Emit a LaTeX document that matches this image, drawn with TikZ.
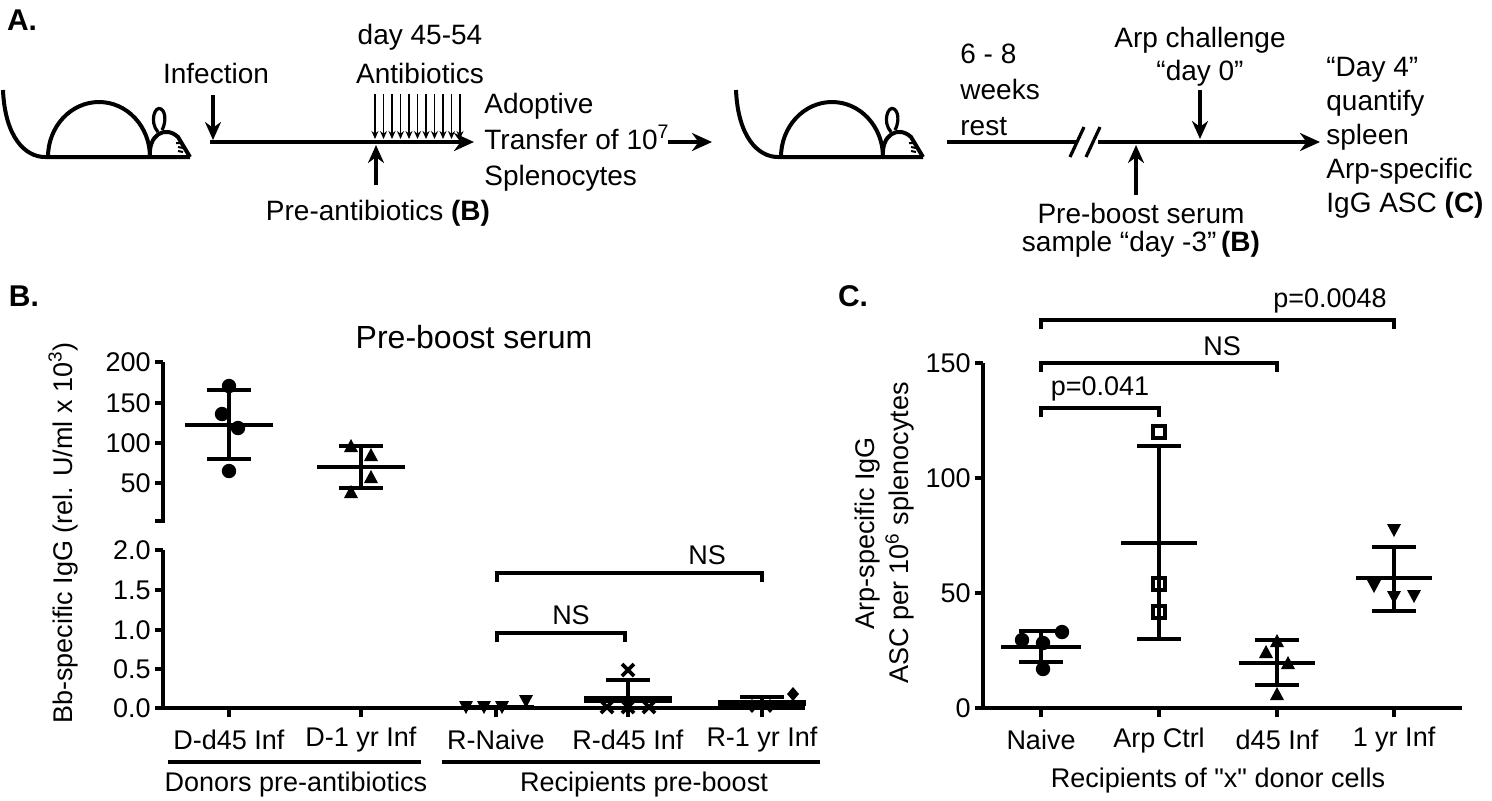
\documentclass[tikz,border=0pt]{standalone}
\usepackage{fontspec}
\setmainfont{Liberation Sans}
\newfontfamily\rawsans{Liberation Sans}[Ligatures=ResetAll]
\usetikzlibrary{arrows.meta}
\tikzset{
  txt/.style={font=\fontsize{14}{16}\selectfont, inner sep=0pt},
  lbl/.style={font=\fontsize{13.5}{15}\selectfont, inner sep=0pt},
  panel/.style={font=\fontsize{15}{17}\selectfont\bfseries, inner sep=0pt},
  axis/.style={line width=2pt},
  bar/.style={line width=2pt},
  tline/.style={line width=2.2pt, -{Stealth[length=10pt,width=9pt]}},
  pointer/.style={line width=2pt, -{Stealth[length=9pt,width=8pt]}},
  mouse/.pic={
    \draw[line width=2pt] (-42,-67) .. controls (-40,-20) and (-20,0) .. (0,0) -- (145,0);
    \draw[line width=2pt] (3,0) arc[start angle=180, end angle=360, x radius=51, y radius=55];
    \draw[line width=2pt] (105,0) .. controls (103,-22) and (120,-32) .. (133,-20) -- (145,0);
    \draw[line width=1.6pt] (113,-25) .. controls (104,-35) and (110,-52) .. (116,-48) .. controls (122,-44) and (120,-32) .. (117,-27);
    \draw[line width=1pt] (131,-14) -- (137,-14) (133,-10) -- (138,-9) (133,-6) -- (138,-5);
  }
}
\newcommand\dotpt[2]{\fill (#1,#2) circle (3.6pt);}
\newcommand\triup[2]{\fill (#1,#2) +(0,-8) -- +(7,5) -- +(-7,5) -- cycle;}
\newcommand\tridn[2]{\fill (#1,#2) +(0,8) -- +(7,-5) -- +(-7,-5) -- cycle;}
\newcommand\xmk[2]{\draw[line width=1.8pt] (#1,#2) +(-6,-6) -- +(6,6) +(-6,6) -- +(6,-6);}
\newcommand\diam[2]{\fill (#1,#2) +(0,-7) -- +(6,0) -- +(0,7) -- +(-6,0) -- cycle;}
\newcommand\opensq[2]{\draw[line width=1.7pt] (#1,#2) +(-6,-6) rectangle +(6,6);}
% x, mean, low, high, half width of mean line
\newcommand\errbar[5]{\draw[bar] (#1-22,#3) -- (#1+22,#3) (#1-22,#4) -- (#1+22,#4) (#1,#3) -- (#1,#4) (#1-#5,#2) -- (#1+#5,#2);}
\newcommand\sigbar[3]{\draw[bar] (#1,#3+9) -- (#1,#3) -- (#2,#3) -- (#2,#3+9);}
\begin{document}
\begin{tikzpicture}[x=0.5pt,y=-0.5pt]
  \useasboundingbox (0,0) rectangle (1492,800);

  % A: timeline
  \node[panel] at (22,20) {A.};
  \pic at (45,157) {mouse};
  \coordinate (t1s) at (210,142);
  \coordinate (t1e) at (474,142);
  \draw[tline] (t1s) -- (t1e);
  \node[txt] (inf) at (216,73) {Infection};
  \coordinate (infT) at (213,95);
  \coordinate (infB) at (213,140);
  \draw[pointer] (infT) -- (infB);
  \node[txt] (abx1) at (420,37) {day 45-54};
  \node[txt] (abx2) at (420,73) {Antibiotics};
  \foreach \i in {0,...,10}
    \draw[line width=0.7pt, -{Stealth[length=4pt,width=3.5pt]}] (375+\i*8.5,94) -- (375+\i*8.5,139);
  \coordinate (preB) at (376,185);
  \coordinate (preT) at (376,145);
  \draw[pointer] (preB) -- (preT);
  \node[txt] (pre) at (378,213) {Pre-antibiotics \textbf{(B)}};
  \node[txt, anchor=west, align=left] (adopt) at (484,142) {Adoptive\\[2pt]Transfer of 10\textsuperscript{7}\\[2pt]Splenocytes};
  \coordinate (trS) at (668,142);
  \coordinate (trE) at (712,142);
  \draw[tline] (trS) -- (trE);
  \pic at (778,157) {mouse};
  \coordinate (t2s) at (947,142);
  \coordinate (t2e) at (1320,142);
  \draw[tline] (t2s) -- (t2e);
  \fill[white] (1076,132) rectangle (1098,152);
  \draw[line width=1.6pt] (1070,157) -- (1084,127) (1086,157) -- (1100,127);
  \node[txt, anchor=west, align=left] (rest) at (960,90) {6 - 8\\[2pt]weeks\\[2pt]rest};
  \node[txt] (arp1) at (1200,40) {Arp challenge};
  \node[txt] (arp2) at (1200,73) {``day 0''};
  \coordinate (arpT) at (1200,90);
  \coordinate (arpB) at (1200,139);
  \draw[pointer] (arpT) -- (arpB);
  \coordinate (pbB) at (1136,195);
  \coordinate (pbT) at (1136,145);
  \draw[pointer] (pbB) -- (pbT);
  \node[txt] (pb1) at (1141,213) {Pre-boost serum};
  \node[txt] (pb2) at (1141,244) {sample ``day -3''\,\textbf{(B)}};
  \node[txt, anchor=west, align=left] (day4) at (1326,138) {``Day 4''\\[1pt]quantify\\[1pt]spleen\\[1pt]Arp-specific\\[1pt]IgG ASC \textbf{(C)}};

  % B: pre-boost serum
  \node[panel] at (24,296) {B.};
  \node[lbl, font=\fontsize{16}{18}\selectfont] at (474,337) {Pre-boost serum};
  \draw[axis] (163,362) -- (163,521) -- ++(-8,0);
  \foreach \v/\y in {200/362,150/403,100/443,50/483} {
    \draw[axis] (163,\y) -- ++(-8,0);
    \node[lbl, anchor=east] at (151,\y) {\v};
  }
  \draw[axis] (163,550) -- (163,708) -- (805,708);
  \foreach \v/\y in {2.0/550,1.5/590,1.0/630,0.5/669,0.0/708} {
    \draw[axis] (163,\y) -- ++(-8,0);
    \node[lbl, anchor=east] at (151,\y) {\v};
  }
  \foreach \x/\t in {229/D-d45 Inf,361/D-1 yr Inf,496/R-Naive,628/R-d45 Inf,762/R-1 yr Inf} {
    \draw[axis] (\x,708) -- ++(0,9);
    \node[lbl] at (\x,740) {\t};
  }
  \node[lbl, rotate=90] at (63,533) {Bb-specific IgG (rel. U/ml x 10\textsuperscript{3})};
  \draw[axis] (168,762) -- (421,762) (442,762) -- (820,762);
  \node[lbl] at (296,784) {Donors pre-antibiotics};
  \node[lbl] at (644,784) {Recipients pre-boost};
  \dotpt{229}{386} \dotpt{222}{414} \dotpt{238}{428} \dotpt{229}{471}
  \errbar{229}{425}{390}{459}{44}
  \triup{351}{447} \triup{371}{456} \triup{371}{478} \triup{351}{493}
  \errbar{361}{467}{446}{488}{44}
  \tridn{466}{706} \tridn{484}{706} \tridn{502}{706} \tridn{526}{700}
  \draw[line width=2.4pt] (470,707) -- (534,707);
  \xmk{628}{670} \xmk{607}{707} \xmk{628}{707} \xmk{649}{707}
  \draw[line width=3.5pt] (584,699) -- (672,699);
  \draw[bar] (628,680) -- (628,708) (606,680) -- (650,680);
  \diam{752}{706} \diam{770}{706} \diam{793}{694}
  \draw[line width=3pt] (718,703) -- (806,703);
  \draw[bar] (740,697) -- (784,697) (762,697) -- (762,714);
  \sigbar{497}{762}{573}
  \node[lbl] at (707,555) {NS};
  \sigbar{497}{625}{633}
  \node[lbl] at (571,615) {NS};

  % C: ASC
  \node[panel] at (853,296) {C.};
  \draw[axis] (983,363) -- (983,708) -- (1462,708);
  \foreach \v/\y in {150/363,100/478,50/593,0/708} {
    \draw[axis] (983,\y) -- ++(-8,0);
    \node[lbl, anchor=east] at (971,\y) {\v};
  }
  \foreach \x/\t in {1041/Naive,1159/Arp Ctrl,1277/d45 Inf,1394/1 yr Inf} {
    \draw[axis] (\x,708) -- ++(0,9);
    \node[lbl] at (\x,740) {\t};
  }
  \node[lbl, rotate=90, align=center] at (885,533) {Arp-specific IgG\\[2pt]ASC per 10\textsuperscript{6} splenocytes};
  \node[lbl] at (1218,780) {Recipients of {\rawsans"x"} donor cells};
  \dotpt{1062}{632} \dotpt{1022}{640} \dotpt{1043}{643} \dotpt{1043}{669}
  \errbar{1041}{647}{631}{662}{40}
  \opensq{1159}{432} \opensq{1159}{584} \opensq{1159}{612}
  \errbar{1159}{543}{446}{639}{38}
  \triup{1277}{642} \triup{1266}{653} \triup{1288}{664} \triup{1277}{695}
  \errbar{1277}{663}{640}{685}{38}
  \tridn{1394}{529} \tridn{1374}{585} \tridn{1394}{596} \tridn{1414}{595}
  \errbar{1394}{578}{547}{611}{38}
  \sigbar{1041}{1159}{408}
  \node[lbl] at (1100,389) {p=0.041};
  \sigbar{1041}{1277}{363}
  \node[lbl] at (1222,346) {NS};
  \sigbar{1041}{1394}{320}
  \node[lbl] at (1330,301) {p=0.0048};
\end{tikzpicture}
\end{document}
